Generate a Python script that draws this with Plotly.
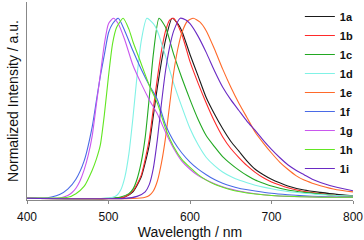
import plotly.graph_objects as go

names = ["1a", "1b", "1c", "1d", "1e", "1f", "1g", "1h", "1i"]
colors = ["#1a1a1a", "#ff2a2a", "#22a822", "#80f2e6", "#ff6a2a",
          "#4a6ae6", "#c957ee", "#62e622", "#6a2ac4"]

wl_1a = [400, 500, 520, 530, 540, 545, 550, 555, 560, 565, 570, 578, 585, 590, 600, 610, 620, 630,
         640, 650, 660, 670, 680, 690, 700, 710, 720, 740, 760, 780, 800]
int_1a = [0.005, 0.003, 0.012, 0.04, 0.12, 0.2, 0.3, 0.46, 0.62, 0.76, 0.88, 1.0, 0.97, 0.93, 0.8,
          0.68, 0.56, 0.47, 0.39, 0.32, 0.265, 0.21, 0.165, 0.135, 0.11, 0.09, 0.073, 0.05, 0.037,
          0.026, 0.018]

wl_1b = [400, 500, 520, 530, 540, 545, 550, 555, 560, 565, 570, 575, 580, 590, 600, 610, 620, 630,
         640, 650, 660, 670, 680, 690, 700, 710, 720, 740, 760, 780, 800]
int_1b = [0.005, 0.003, 0.012, 0.045, 0.13, 0.22, 0.33, 0.5, 0.67, 0.82, 0.93, 0.99, 1.0, 0.91,
          0.76, 0.64, 0.53, 0.43, 0.345, 0.28, 0.23, 0.185, 0.148, 0.118, 0.095, 0.078, 0.063,
          0.042, 0.03, 0.02, 0.015]

wl_1c = [400, 500, 515, 525, 530, 535, 540, 545, 550, 555, 562, 570, 580, 590, 600, 610, 620, 630,
         640, 650, 660, 670, 680, 690, 700, 720, 740, 760, 780, 800]
int_1c = [0.005, 0.004, 0.012, 0.03, 0.055, 0.11, 0.2, 0.34, 0.56, 0.8, 1.0, 0.95, 0.8, 0.67, 0.55,
          0.44, 0.35, 0.29, 0.235, 0.195, 0.16, 0.13, 0.105, 0.088, 0.072, 0.05, 0.037, 0.028,
          0.02, 0.016]

wl_1d = [400, 490, 505, 510, 515, 520, 525, 530, 535, 540, 547, 555, 560, 570, 580, 590, 600, 610,
         620, 630, 640, 650, 660, 670, 680, 690, 700, 720, 740, 760, 780, 800]
int_1d = [0.005, 0.003, 0.01, 0.02, 0.05, 0.12, 0.25, 0.45, 0.68, 0.87, 1.0, 0.97, 0.93, 0.79,
          0.64, 0.51, 0.39, 0.3, 0.23, 0.185, 0.15, 0.125, 0.105, 0.09, 0.077, 0.066, 0.057,
          0.042, 0.032, 0.025, 0.02, 0.017]

wl_1e = [400, 530, 545, 550, 555, 560, 565, 570, 575, 580, 585, 590, 597, 604, 612, 620, 630, 640,
         650, 660, 670, 680, 690, 700, 710, 720, 730, 740, 750, 760, 780, 800]
int_1e = [0.005, 0.003, 0.01, 0.02, 0.045, 0.1, 0.2, 0.34, 0.52, 0.7, 0.83, 0.92, 0.985, 1.0, 0.98,
          0.93, 0.83, 0.72, 0.62, 0.53, 0.45, 0.37, 0.31, 0.255, 0.205, 0.165, 0.13, 0.105,
          0.088, 0.074, 0.052, 0.04]

wl_1f = [400, 420, 430, 440, 450, 460, 470, 480, 485, 490, 495, 500, 505, 512, 520, 530, 540, 550,
         560, 570, 580, 590, 600, 610, 620, 630, 640, 650, 660, 680, 700, 720, 740, 760, 780, 800]
int_1f = [0.008, 0.006, 0.012, 0.025, 0.055, 0.11, 0.21, 0.4, 0.54, 0.68, 0.8, 0.92, 0.97, 1.0,
          0.93, 0.82, 0.72, 0.63, 0.55, 0.41, 0.32, 0.255, 0.205, 0.166, 0.135, 0.108, 0.088,
          0.072, 0.06, 0.045, 0.032, 0.024, 0.018, 0.014, 0.012, 0.01]

wl_1g = [400, 440, 450, 455, 460, 465, 470, 475, 480, 485, 490, 495, 500, 506, 512, 520, 530, 540,
         550, 560, 570, 580, 590, 600, 610, 620, 630, 640, 650, 660, 680, 700, 720, 760, 800]
int_1g = [0.008, 0.006, 0.02, 0.035, 0.06, 0.1, 0.16, 0.24, 0.35, 0.52, 0.69, 0.86, 0.97, 1.0,
          0.97, 0.88, 0.74, 0.64, 0.55, 0.47, 0.37, 0.28, 0.21, 0.165, 0.13, 0.105, 0.085, 0.068,
          0.055, 0.045, 0.03, 0.02, 0.015, 0.011, 0.01]

wl_1h = [400, 450, 460, 470, 480, 485, 490, 495, 500, 505, 510, 518, 525, 530, 540, 550, 560, 570,
         580, 590, 600, 610, 620, 630, 640, 650, 660, 680, 700, 750, 800]
int_1h = [0.006, 0.01, 0.03, 0.07, 0.16, 0.22, 0.3, 0.47, 0.68, 0.86, 0.95, 1.0, 0.94, 0.87, 0.75,
          0.63, 0.53, 0.39, 0.29, 0.22, 0.175, 0.135, 0.105, 0.082, 0.066, 0.052, 0.042, 0.028,
          0.02, 0.012, 0.01]

wl_1i = [400, 520, 535, 545, 550, 555, 560, 565, 570, 575, 580, 588, 595, 600, 610, 620, 630, 640,
         650, 660, 670, 680, 690, 700, 710, 720, 730, 740, 750, 760, 780, 800]
int_1i = [0.005, 0.004, 0.015, 0.04, 0.08, 0.17, 0.33, 0.53, 0.71, 0.84, 0.93, 1.0, 0.99, 0.97, 0.9,
          0.81, 0.71, 0.62, 0.55, 0.49, 0.43, 0.38, 0.325, 0.275, 0.23, 0.19, 0.16, 0.135, 0.11,
          0.092, 0.065, 0.046]

wls = [wl_1a, wl_1b, wl_1c, wl_1d, wl_1e, wl_1f, wl_1g, wl_1h, wl_1i]
ints = [int_1a, int_1b, int_1c, int_1d, int_1e, int_1f, int_1g, int_1h, int_1i]

x_ticks = [400, 500, 600, 700, 800]

fig = go.Figure()
for n, c, x, y in zip(names, colors, wls, ints):
    fig.add_trace(go.Scatter(x=x, y=y, mode="lines", name=n,
                             line=dict(color=c, width=1.1, shape="spline", smoothing=0.6)))

fig.update_layout(
    width=364, height=240,
    margin=dict(l=27, r=11, t=2, b=40),
    paper_bgcolor="white", plot_bgcolor="white",
    font=dict(family="Liberation Sans, Arial, sans-serif", size=12, color="#111"),
    showlegend=True,
    legend=dict(x=0.837, y=1.0, xanchor="left", yanchor="top",
                bgcolor="rgba(0,0,0,0)", borderwidth=0,
                font=dict(size=11, weight="bold", color="#111"),
                tracegroupgap=0),
    xaxis=dict(range=[400, 800], tickvals=x_ticks, ticks="outside", ticklen=3,
               tickcolor="#888", showline=True, linecolor="#888", linewidth=1,
               showgrid=False, zeroline=False, automargin=False, ticklabelstandoff=3,
               title=dict(text="Wavelength / nm", standoff=5)),
    yaxis=dict(range=[-0.005, 1.09], showticklabels=False, ticks="", showline=True,
               linecolor="#888", linewidth=1, showgrid=False, zeroline=False,
               automargin=False,
               title=dict(text="Normalized Intensity / a.u.", standoff=4)),
)

fig.write_html("out.html", config={"displayModeBar": False},
               post_script="document.body.style.margin='0';")
